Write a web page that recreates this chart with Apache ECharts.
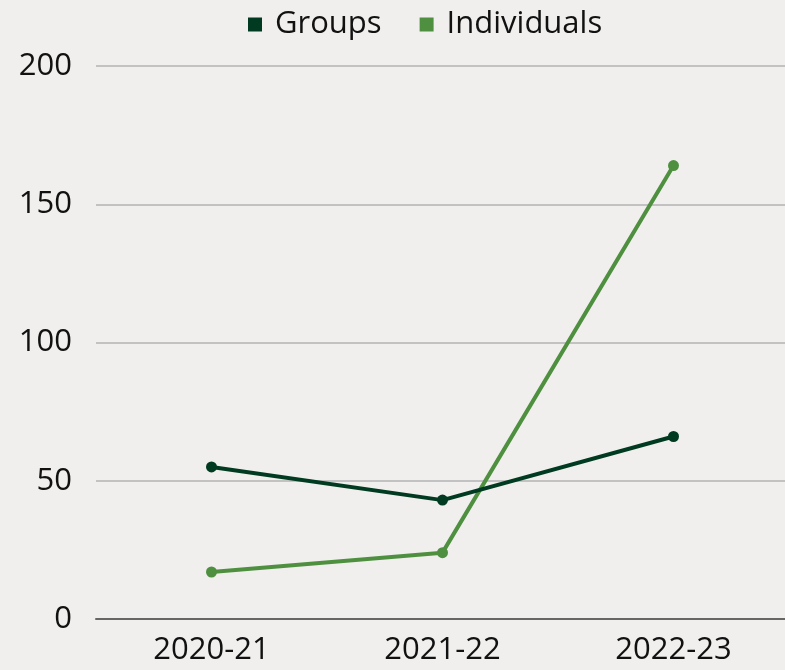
<!DOCTYPE html>
<html>
<head>
<meta charset="utf-8">
<script src="https://cdn.jsdelivr.net/npm/echarts@6/dist/echarts.min.js"></script>
<style>
  html, body { margin: 0; padding: 0; background: #f0efed; overflow: hidden; }
  #chart { width: 789px; height: 670px; }
</style>
</head>
<body>
<div id="chart"></div>
<script>
const categories = ['2020-21', '2021-22', '2022-23']
const groups = [55, 43, 66]
const individuals = [17, 24, 164]

const chart = echarts.init(document.getElementById('chart'))
const font = '"Open Sans", "Noto Sans", sans-serif'

chart.setOption({
    backgroundColor: '#f0efed',
    textStyle: { fontFamily: font },
    legend: {
        data: ['Groups', 'Individuals'],
        top: 4,
        left: 243,
        icon: 'rect',
        itemWidth: 14,
        itemHeight: 14,
        itemGap: 38,
        textStyle: { fontSize: 31, color: '#111', fontFamily: font, padding: [0, 0, 0, 8] }
    },
    grid: {
        left: 96,
        right: 0,
        top: 66,
        bottom: 51,
        containLabel: false
    },
    xAxis: {
        type: 'category',
        data: categories,
        axisTick: { show: false },
        axisLine: { lineStyle: { color: '#666', width: 2 } },
        axisLabel: { fontSize: 31, color: '#111', margin: 16, fontFamily: font }
    },
    yAxis: {
        type: 'value',
        min: 0,
        max: 200,
        interval: 50,
        axisLine: { show: false },
        axisTick: { show: false },
        axisLabel: { fontSize: 31, color: '#111', margin: 24, fontFamily: font },
        splitLine: { lineStyle: { color: '#b3b3b3', width: 1.5 } }
    },
    series: [
        {
            name: 'Groups',
            type: 'line',
            data: groups,
            symbol: 'circle',
            symbolSize: 11,
            color: '#003a20',
            lineStyle: { width: 4, color: '#003a20' },
            z: 3
        },
        {
            name: 'Individuals',
            type: 'line',
            data: individuals,
            symbol: 'circle',
            symbolSize: 11,
            color: '#4f9040',
            lineStyle: { width: 4, color: '#4f9040' },
            z: 2
        }
    ]
})
</script>
</body>
</html>
